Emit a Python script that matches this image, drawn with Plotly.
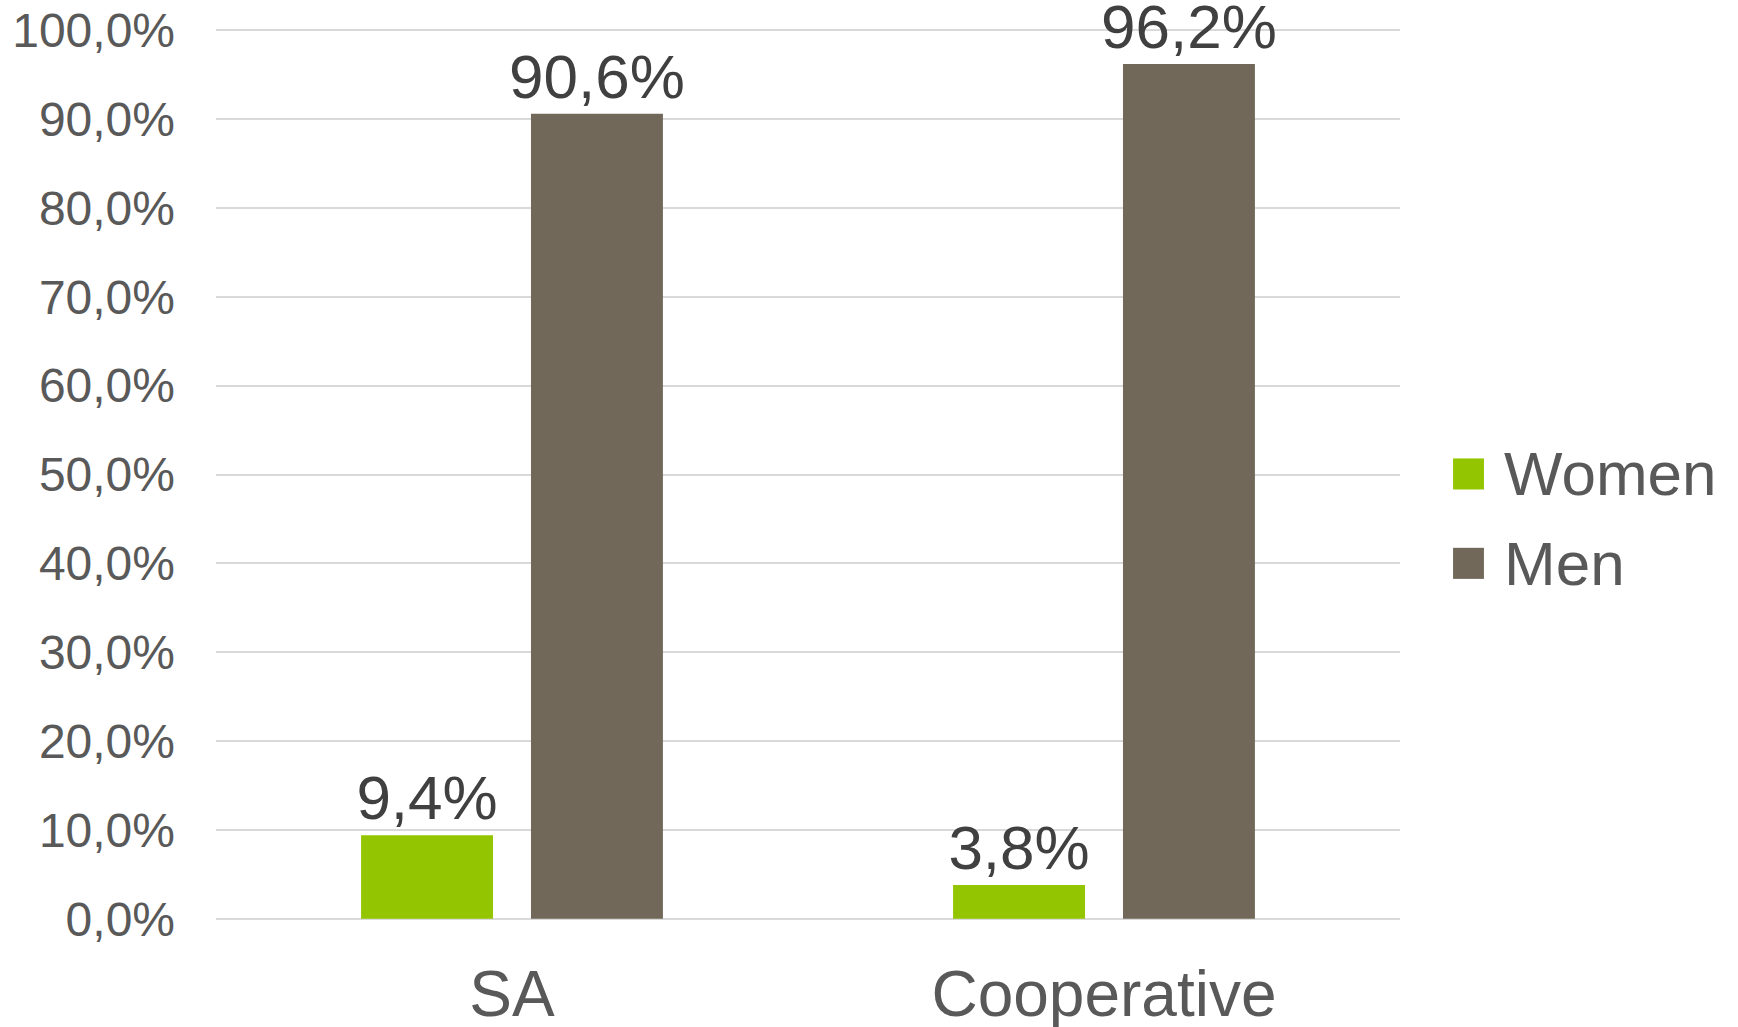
import plotly.graph_objects as go

# Share of women and men by company type
categories = ["SA", "Cooperative"]
series_names = ["Women", "Men"]
women = [9.4, 3.8]
men = [90.6, 96.2]
series_colors = ["#93C600", "#716859"]

tick_values = [0, 10, 20, 30, 40, 50, 60, 70, 80, 90, 100]
tick_labels = ["0,0%", "10,0%", "20,0%", "30,0%", "40,0%", "50,0%",
               "60,0%", "70,0%", "80,0%", "90,0%", "100,0%"]

FONT = "Liberation Sans, Arial, sans-serif"


def fmt(v):
    return f"{v:.1f}".replace(".", ",") + "%"


fig = go.Figure()
for name, values, color in zip(series_names, [women, men], series_colors):
    fig.add_trace(go.Bar(
        x=categories,
        y=values,
        name=name,
        marker=dict(color=color, line=dict(width=0)),
        text=[fmt(v) for v in values],
        textposition="outside",
        constraintext="none",
        textfont=dict(family=FONT, size=62, color="#404040"),
        cliponaxis=False,
        showlegend=False,
    ))

# Legend drawn as large square swatches with labels on the right
legend_y = [0.5006, 0.4005]
for name, color, yc in zip(series_names, series_colors, legend_y):
    fig.add_shape(
        type="rect", xref="paper", yref="paper",
        x0=1.0448, x1=1.0709, y0=yc - 0.0174, y1=yc + 0.0174,
        fillcolor=color, line=dict(width=0),
    )
    fig.add_annotation(
        text=name, xref="paper", yref="paper",
        x=1.0861, y=yc, xanchor="left", yanchor="middle",
        showarrow=False,
        font=dict(family=FONT, size=62, color="#595959"),
    )

fig.update_layout(
    width=1738, height=1027,
    margin=dict(l=216, r=338, t=28, b=106),
    paper_bgcolor="white",
    plot_bgcolor="white",
    barmode="group",
    bargap=0.426,
    bargroupgap=0.2235,
    font=dict(family=FONT, color="#595959"),
    xaxis=dict(
        showgrid=False,
        showline=False,
        ticks="",
        automargin=False,
        tickfont=dict(family=FONT, size=64, color="#595959"),
        ticklabelstandoff=30,
    ),
    yaxis=dict(
        range=[-0.25, 100.25],
        tickvals=tick_values,
        ticktext=tick_labels,
        tickfont=dict(family=FONT, size=48, color="#595959"),
        showgrid=True,
        gridcolor="#D9D9D9",
        gridwidth=1.5,
        zeroline=False,
        showline=False,
        ticks="",
        automargin=False,
        ticklabelstandoff=40,
    ),
)

fig.write_html("out.html")
